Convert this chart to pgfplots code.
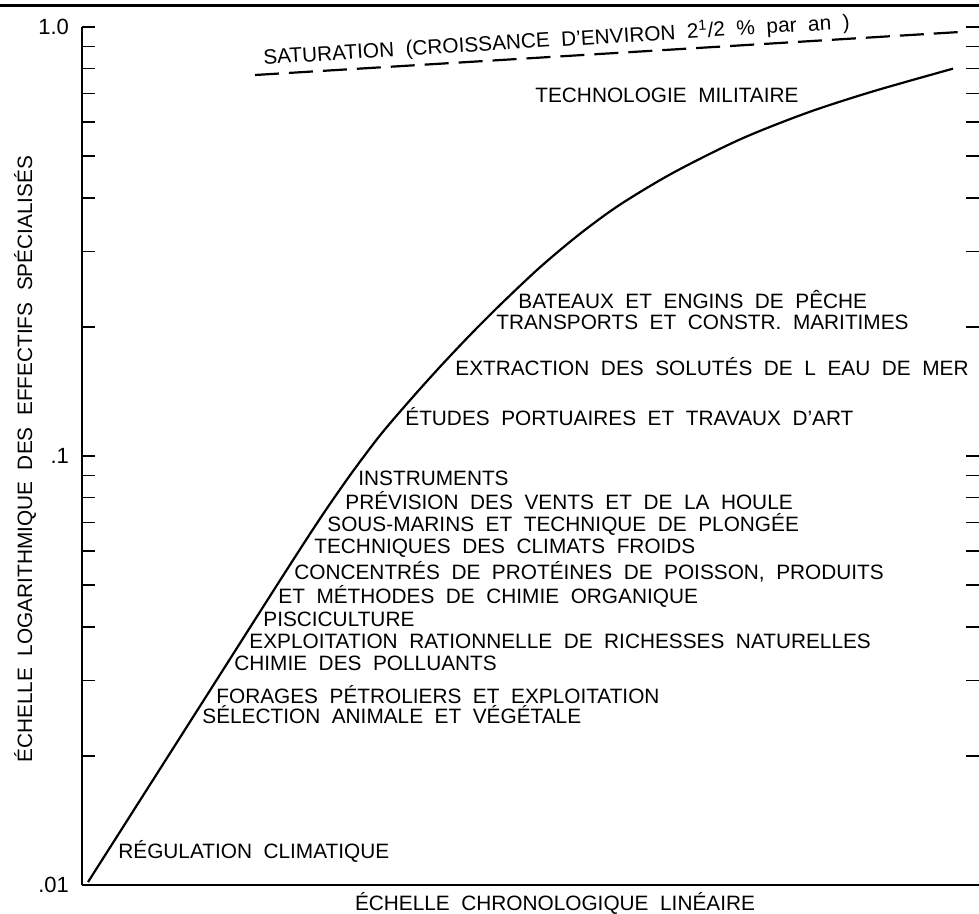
\documentclass[border=0pt]{standalone}
\usepackage{fontspec}
\setmainfont[WordSpace=2]{Liberation Sans}
\usepackage{pgfplots}
\pgfplotsset{compat=1.18}

% growth curve of specialised staff (log scale) against a linear time scale
\pgfplotstableread{
x      y
6      0.01016
118    0.02612
198    0.05129
238    0.07145
268    0.09016
298    0.1117
328    0.1349
358    0.1614
388    0.1914
418    0.2249
458    0.2754
498    0.3296
538    0.3855
591    0.4571
658    0.5470
725    0.6310
791    0.7079
871    0.7998
}\growth

\pgfplotstableread{
x      y
173    0.773
876    0.973
}\saturation

\newcommand{\lab}{\fontsize{10.4}{12}\selectfont}
% position helper in drawing units (origin top-left of the figure)
\newcommand{\px}[2]{(rel axis cs:{(#1-82)/897},{(885-#2)/858})}

\begin{document}
\begin{tikzpicture}
\begin{axis}[
  scale only axis, width=448.5pt, height=429pt,
  at={(0,0)}, anchor=south west,
  xmin=0, xmax=897, ymode=log, ymin=0.01, ymax=1,
  xtick=\empty,
  minor ytick={0.02,0.03,0.04,0.05,0.06,0.07,0.08,0.09,0.2,0.3,0.4,0.5,0.6,0.7,0.8,0.9},
  tick align=inside, major tick length=6.5pt, minor tick length=6.5pt,
  every tick/.style={black, line width=0.8pt},
  clip=false,
  axis x line*=bottom, axis y line*=left,
  axis line style={line width=1pt},
  ytick={0.01,0.1,1}, yticklabels={.01,.1,1.0},
  yticklabel style={font=\fontsize{11}{13}\selectfont, xshift=-3pt},
]
\addplot[black, line width=1.1pt, smooth] table[x=x, y=y] {\growth};
\addplot[black, line width=1.1pt, dash pattern=on 12pt off 5pt] table[x=x, y=y] {\saturation};

\node[anchor=west, inner sep=0, rotate=3.5] at \px{263}{58} {\lab SATURATION (CROISSANCE D'ENVIRON 2\textsuperscript{1}/2 \% par an )};
\node[anchor=west, inner sep=0] at \px{535}{95} {\lab TECHNOLOGIE MILITAIRE};
\node[anchor=west, inner sep=0] at \px{518}{300} {\lab BATEAUX ET ENGINS DE PÊCHE};
\node[anchor=west, inner sep=0] at \px{496}{322} {\lab TRANSPORTS ET CONSTR. MARITIMES};
\node[anchor=west, inner sep=0] at \px{455}{367} {\lab EXTRACTION DES SOLUTÉS DE L EAU DE MER};
\node[anchor=west, inner sep=0] at \px{405}{417} {\lab ÉTUDES PORTUAIRES ET TRAVAUX D'ART};
\node[anchor=west, inner sep=0] at \px{358}{478} {\lab INSTRUMENTS};
\node[anchor=west, inner sep=0] at \px{345}{501} {\lab PRÉVISION DES VENTS ET DE LA HOULE};
\node[anchor=west, inner sep=0] at \px{327}{524} {\lab SOUS-MARINS ET TECHNIQUE DE PLONGÉE};
\node[anchor=west, inner sep=0] at \px{314}{548} {\lab TECHNIQUES DES CLIMATS FROIDS};
\node[anchor=west, inner sep=0] at \px{294}{572} {\lab CONCENTRÉS DE PROTÉINES DE POISSON, PRODUITS};
\node[anchor=west, inner sep=0] at \px{278}{596} {\lab ET MÉTHODES DE CHIMIE ORGANIQUE};
\node[anchor=west, inner sep=0] at \px{263}{619} {\lab PISCICULTURE};
\node[anchor=west, inner sep=0] at \px{249}{641} {\lab EXPLOITATION RATIONNELLE DE RICHESSES NATURELLES};
\node[anchor=west, inner sep=0] at \px{234}{663} {\lab CHIMIE DES POLLUANTS};
\node[anchor=west, inner sep=0] at \px{216}{695} {\lab FORAGES PÉTROLIERS ET EXPLOITATION};
\node[anchor=west, inner sep=0] at \px{202}{715} {\lab SÉLECTION ANIMALE ET VÉGÉTALE};
\node[anchor=west, inner sep=0] at \px{118}{851} {\lab RÉGULATION CLIMATIQUE};

\node[rotate=90, inner sep=0] at \px{25}{459} {\lab ÉCHELLE LOGARITHMIQUE DES EFFECTIFS SPÉCIALISÉS};
\node[inner sep=0] at \px{555}{903} {\lab ÉCHELLE CHRONOLOGIQUE LINÉAIRE};

\draw[black, line width=1.2pt] \px{0}{5.5} -- \px{979}{5.5};
\end{axis}
% tick marks along the right-hand edge, without an axis line
\begin{axis}[
  scale only axis, width=448.5pt, height=429pt,
  at={(0,0)}, anchor=south west,
  xmin=0, xmax=897, ymode=log, ymin=0.01, ymax=1,
  xtick=\empty,
  minor ytick={0.02,0.03,0.04,0.05,0.06,0.07,0.08,0.09,0.2,0.3,0.4,0.5,0.6,0.7,0.8,0.9},
  tick align=inside, major tick length=6.5pt, minor tick length=6.5pt,
  every tick/.style={black, line width=0.8pt},
  axis x line=none, axis y line*=right,
  y axis line style={draw=none},
  ytick={0.1,1}, yticklabels={},
]
\end{axis}
\pgfresetboundingbox
\path[use as bounding box] (-41pt,-14.5pt) rectangle (448.5pt,442.5pt);
\end{tikzpicture}
\end{document}
